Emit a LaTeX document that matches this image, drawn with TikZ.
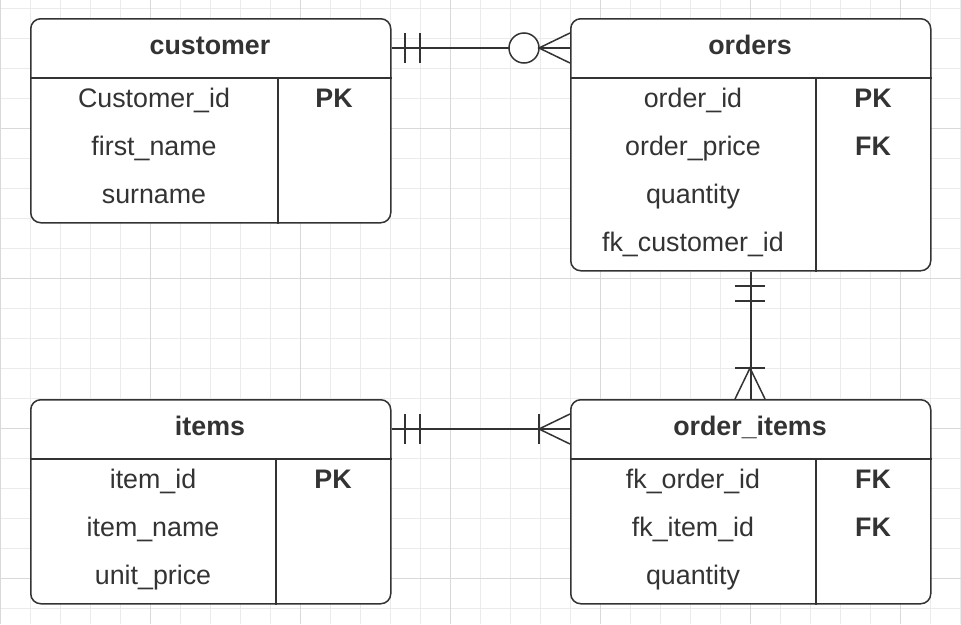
\documentclass[tikz,border=0pt]{standalone}
\usepackage{fontspec}
\setmainfont{Liberation Sans}
\usetikzlibrary{calc}
\definecolor{ink}{HTML}{333333}
\definecolor{gridminor}{HTML}{EBEBEB}
\definecolor{gridmajor}{HTML}{D9D9D9}
\tikzset{
  tbl/.style={draw=ink, line width=1.5pt, rounded corners=10pt, fill=white, inner sep=0pt, anchor=north west},
  sep/.style={draw=ink, line width=1.5pt},
  txt/.style={text=ink, font=\fontsize{26.8}{30}\selectfont, anchor=base, inner sep=0pt},
  hdr/.style={text=ink, font=\bfseries\fontsize{26.8}{30}\selectfont, anchor=base, inner sep=0pt},
  conn/.style={draw=ink, line width=1.5pt},
}
\newcommand\ertable[6]{% name, x, y, w, h, divider offset
  \node[tbl, minimum width=#4pt, minimum height=#5pt] (#1) at (#2,#3) {};
  \draw[sep] ([yshift=-60pt]#1.north west) -- ([yshift=-60pt]#1.north east);
  \draw[sep] ([xshift=#6pt,yshift=-60pt]#1.north west) -- ([xshift=#6pt]#1.south west);
}
\begin{document}
\begin{tikzpicture}[x=1pt,y=-1pt]
\fill[white] (0,0) rectangle (961,624);
\useasboundingbox (0,0) rectangle (961,624);
% grid
\foreach \x in {0,30,...,960} \draw[gridminor,line width=1pt] (\x,0) -- (\x,624);
\foreach \y in {8,38,...,620} \draw[gridminor,line width=1pt] (0,\y) -- (961,\y);
\foreach \x in {0,150,...,900} \draw[gridmajor,line width=1pt] (\x,0) -- (\x,624);
\foreach \y in {128,278,428,578} \draw[gridmajor,line width=1pt] (0,\y) -- (961,\y);

% tables
\ertable{customer}{30}{18}{360}{204}{248}
\ertable{orders}{570}{18}{360}{252}{246}
\ertable{items}{30}{399}{360}{204}{246}
\ertable{orderitems}{570}{399}{360}{204}{246}

% customer
\node[hdr] (customer-h) at (210,54) {customer};
\node[txt] (customer-r1) at (154,107.5) {Customer\_id};
\node[hdr] (customer-k1) at (334,107.5) {PK};
\node[txt] (customer-r2) at (154,155.5) {first\_name};
\node[txt] (customer-r3) at (154,203.5) {surname};

% orders
\node[hdr] (orders-h) at (750,54) {orders};
\node[txt] (orders-r1) at (693,107.5) {order\_id};
\node[hdr] (orders-k1) at (873,107.5) {PK};
\node[txt] (orders-r2) at (693,155.5) {order\_price};
\node[hdr] (orders-k2) at (873,155.5) {FK};
\node[txt] (orders-r3) at (693,203.5) {quantity};
\node[txt] (orders-r4) at (693,251.5) {fk\_customer\_id};

% items
\node[hdr] (items-h) at (210,435) {items};
\node[txt] (items-r1) at (153,488.5) {item\_id};
\node[hdr] (items-k1) at (333,488.5) {PK};
\node[txt] (items-r2) at (153,536.5) {item\_name};
\node[txt] (items-r3) at (153,584.5) {unit\_price};

% order_items
\node[hdr] (orderitems-h) at (750,435) {order\_items};
\node[txt] (orderitems-r1) at (693,488.5) {fk\_order\_id};
\node[hdr] (orderitems-k1) at (873,488.5) {FK};
\node[txt] (orderitems-r2) at (693,536.5) {fk\_item\_id};
\node[hdr] (orderitems-k2) at (873,536.5) {FK};
\node[txt] (orderitems-r3) at (693,584.5) {quantity};

% connector customer -> orders (one to zero-or-many)
\draw[conn] ([yshift=-30pt]customer.north east) -- ([yshift=-30pt]orders.north west);
\draw[conn] (405,33) -- (405,63);
\draw[conn] (420,33) -- (420,63);
\draw[conn, fill=white] (524,48) circle (15);
\draw[conn] (570,33) -- (539,48) -- (570,63);
\draw[conn] (539,48) -- (570,48);

% connector orders -> order_items (one to one-or-many)
\draw[conn] (orders.south) -- (orderitems.north);
\draw[conn] (735,286) -- (765,286);
\draw[conn] (735,301) -- (765,301);
\draw[conn] (735,368) -- (765,368);
\draw[conn] (735,399) -- (750,368) -- (765,399);

% connector items -> order_items (one to one-or-many)
\draw[conn] ([yshift=-30pt]items.north east) -- ([yshift=-30pt]orderitems.north west);
\draw[conn] (405,414) -- (405,444);
\draw[conn] (420,414) -- (420,444);
\draw[conn] (539,414) -- (539,444);
\draw[conn] (570,414) -- (539,429) -- (570,444);
\end{tikzpicture}
\end{document}
